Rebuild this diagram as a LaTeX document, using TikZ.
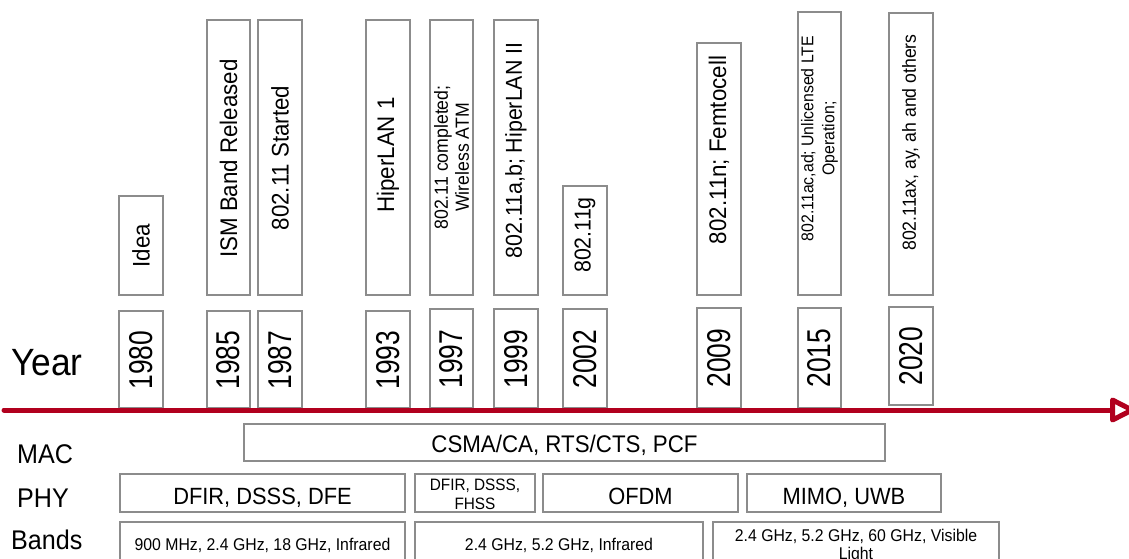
\documentclass[tikz,border=0pt]{standalone}
\usepackage{fontspec}
\setmainfont{Liberation Sans}[FakeStretch=0.93]
\newfontfamily\yfont{Liberation Sans}[FakeStretch=0.8]
\usetikzlibrary{fit}
\definecolor{boxgray}{RGB}{140,140,140}
\definecolor{tlred}{RGB}{177,0,30}
\tikzset{
  box/.style={draw=boxgray, line width=2pt, inner sep=0pt, fill=white, fit={#1}},
  yeartxt/.style={rotate=90, inner sep=0pt, font=\yfont\fontsize{33}{33}\selectfont},
  evtxt/.style={rotate=90, inner sep=0pt, font=\fontsize{24}{28}\selectfont},
  evsmall/.style={rotate=90, inner sep=0pt, align=center, font=\fontsize{#1}{21}\selectfont},
  rowlabel/.style={anchor=base west, inner sep=0pt, font=\fontsize{27}{30}\selectfont},
  rowtxt/.style={anchor=base, inner sep=0pt, font=\fontsize{23.5}{27}\selectfont},
  smalltxt/.style={align=center, inner sep=0pt, font=\fontsize{16.5}{19}\selectfont},
  bandtxt/.style={align=center, inner sep=0pt, font=\fontsize{17}{18}\selectfont},
  timeline/.style={draw=tlred, line width=5pt},
}
\begin{document}
\begin{tikzpicture}[x=1pt, y=-1pt]
\useasboundingbox (0,0) rectangle (1129,558);
\clip (0,0) rectangle (1129,558);
\fill[white] (0,0) rectangle (1129,558);

% year boxes
\node[box={(119,311)(163,408)}] (b1980) {};
\node[box={(207,311)(250,408)}] (b1985) {};
\node[box={(258,311)(302,408)}] (b1987) {};
\node[box={(366,311)(410,408)}] (b1993) {};
\node[box={(430,309)(473,408)}] (b1997) {};
\node[box={(494,309)(538,408)}] (b1999) {};
\node[box={(563,309)(607,408)}] (b2002) {};
\node[box={(697,308)(741,408)}] (b2009) {};
\node[box={(798,308)(841,408)}] (b2015) {};
\node[box={(889,307)(933,405)}] (b2020) {};
\node[yeartxt] (t1980) at (141,360) {1980};
\node[yeartxt] (t1985) at (228.5,360) {1985};
\node[yeartxt] (t1987) at (280,360) {1987};
\node[yeartxt] (t1993) at (388,360) {1993};
\node[yeartxt] (t1997) at (451.5,359) {1997};
\node[yeartxt] (t1999) at (516,359) {1999};
\node[yeartxt] (t2002) at (585,359) {2002};
\node[yeartxt] (t2009) at (719,358) {2009};
\node[yeartxt] (t2015) at (819.5,358) {2015};
\node[yeartxt] (t2020) at (911,356) {2020};

% event boxes
\node[box={(119,196)(163,295)}] (eidea) {};
\node[box={(207,20)(250,295)}] (eism) {};
\node[box={(258,20)(302,295)}] (estart) {};
\node[box={(366,20)(410,295)}] (ehl) {};
\node[box={(430,20)(473,295)}] (ecomp) {};
\node[box={(494,20)(538,295)}] (eab) {};
\node[box={(563,186)(607,295)}] (eg) {};
\node[box={(697,43)(741,295)}] (en) {};
\node[box={(798,12)(841,295)}] (eac) {};
\node[box={(889,13)(933,295)}] (eax) {};
\node[evtxt] (tidea) at (141,245.5) {Idea};
\node[evtxt] (tism) at (228.5,158.5) {ISM Band Released};
\node[evtxt] (tstart) at (280,158) {802.11 Started};
\node[evtxt] (thl) at (388,155) {HiperLAN 1};
\node[evsmall=19] (tcomp) at (451.5,157.5) {802.11 completed;\\Wireless ATM};
\node[evtxt, font=\fontsize{23}{27}\selectfont] (tab) at (516,150.5) {802.11a,b; HiperLAN II};
\node[evtxt, font=\fontsize{23}{27}\selectfont] (tg) at (585,235) {802.11g};
\node[evtxt] (tn) at (719,150) {802.11n; Femtocell};
\node[evsmall=17] (tac) at (819.5,138.5) {802.11ac,ad; Unlicensed LTE\\Operation;};
\node[evsmall=19] (tax) at (911,142.5) {802.11ax, ay, ah and others};

% timeline
\coordinate (tlstart) at (4,410);
\coordinate (tlend) at (1112.5,410);
\draw[timeline, line cap=round] (tlstart) -- (tlend);
\draw[timeline, fill=white, line join=round] (tlend) -- (1112.5,400) -- (1132,410) -- (1112.5,420) -- cycle;

% row labels
\node[rowlabel, font=\fontsize{38}{40}\selectfont] (lyear) at (11,375) {Year};
\node[rowlabel] (lmac) at (17,463) {MAC};
\node[rowlabel] (lphy) at (17,507) {PHY};
\node[rowlabel] (lbands) at (11,549.5) {Bands};

% MAC row
\node[box={(244,424)(885,461)}] (mac) {};
\node[rowtxt, font=\fontsize{24}{28}\selectfont] (tmac) at (564.5,452) {CSMA/CA, RTS/CTS, PCF};

% PHY row
\node[box={(120,474)(405,512)}] (p1) {};
\node[box={(415,474)(535,512)}] (p2) {};
\node[box={(543,474)(738,512)}] (p3) {};
\node[box={(747,474)(941,512)}] (p4) {};
\node[rowtxt] (tp1) at (262.5,504) {DFIR, DSSS, DFE};
\node[smalltxt] (tp2) at (475,494) {DFIR, DSSS,\\FHSS};
\node[rowtxt] (tp3) at (640.5,504) {OFDM};
\node[rowtxt] (tp4) at (844,504) {MIMO, UWB};

% Bands row
\node[box={(120,522)(405,575)}] (bd1) {};
\node[box={(415,522)(703,575)}] (bd2) {};
\node[box={(713,522)(999,575)}] (bd3) {};
\node[bandtxt, anchor=base] (tbd1) at (262.5,550.5) {900 MHz, 2.4 GHz, 18 GHz, Infrared};
\node[bandtxt, anchor=base] (tbd2) at (559,550.5) {2.4 GHz, 5.2 GHz, Infrared};
\node[bandtxt] (tbd3) at (856,546.5) {2.4 GHz, 5.2 GHz, 60 GHz, Visible\\Light};
\end{tikzpicture}
\end{document}
